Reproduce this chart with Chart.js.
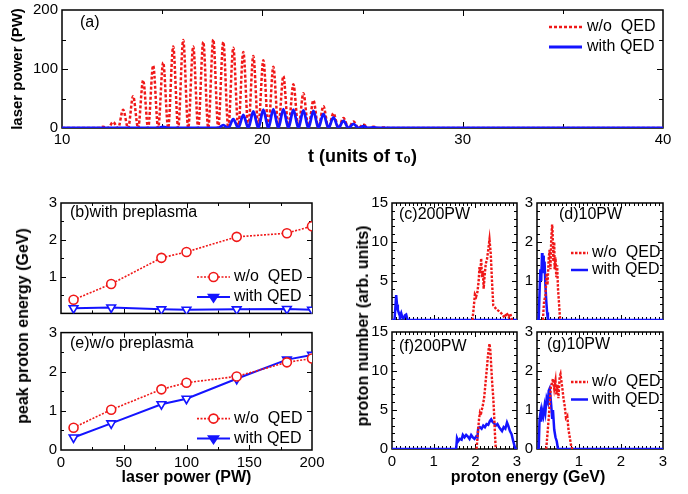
<!DOCTYPE html>
<html><head><meta charset="utf-8">
<script src="https://cdn.jsdelivr.net/npm/chart.js@4.4.1/dist/chart.umd.min.js"></script>
<style>
html,body{margin:0;padding:0;background:#fff}
body{width:688px;height:494px;position:relative;overflow:hidden;font-family:"Liberation Sans",Arial,sans-serif}
canvas{position:absolute}
.t{position:absolute;font-weight:bold;font-size:16px;white-space:nowrap;color:#000;line-height:1}
</style></head><body>
<canvas id="ca" width="688" height="172" style="left:0;top:0"></canvas>
<canvas id="cb" width="340" height="130" style="left:0;top:190px"></canvas>
<canvas id="ce" width="340" height="168" style="left:0;top:326px"></canvas>
<canvas id="cc" width="185" height="130" style="left:340px;top:190px"></canvas>
<canvas id="cd" width="168" height="130" style="left:520px;top:190px"></canvas>
<canvas id="cf" width="185" height="168" style="left:340px;top:326px"></canvas>
<canvas id="cg" width="168" height="168" style="left:520px;top:326px"></canvas>
<div class="t" style="left:23px;top:326px;transform:translate(-50%,-50%) rotate(-90deg)">peak proton energy (GeV)</div>
<div class="t" style="left:363px;top:326px;transform:translate(-50%,-50%) rotate(-90deg)">proton number (arb. units)</div>
<div class="t" style="left:528px;top:477px;transform:translate(-50%,-50%)">proton energy (GeV)</div>
<script>
// ---------- DATA ----------
// (a) laser power (PW) vs t (units of tau0): [t, P]
const aNoQED = [[10,0],[11.8,0],[12.05,2],[12.3,0],[12.55,10],[12.8,0],[13.05,31],[13.3,0],[13.55,54],[13.8,0],[14.05,81],[14.3,0],[14.55,106],[14.8,0],[15.05,111],[15.3,0],[15.55,138],[15.8,0],[16.05,149],[16.3,0],[16.55,138],[16.8,0],[17.05,146],[17.3,0],[17.55,150],[17.8,0],[18.05,146],[18.3,0],[18.55,136],[18.8,0],[19.05,129],[19.3,0],[19.55,122],[19.8,0],[20.05,115],[20.3,0],[20.55,104],[20.8,0],[21.05,88],[21.3,0],[21.55,74],[21.8,0],[22.05,59],[22.3,0],[22.55,47],[22.8,0],[23.05,37],[23.3,0],[23.55,25],[23.8,0],[24.05,17],[24.3,0],[24.55,11],[24.8,0],[25.05,6],[25.3,0],[25.55,2],[25.8,0],[26.05,1],[26.3,0],[40,0]];
const aQED = [[10,0],[14.8,0],[15.05,2],[15.3,0],[17.8,0],[18.05,5],[18.3,0],[18.55,15],[18.8,0],[19.05,22],[19.3,0],[19.55,28],[19.8,0],[20.05,31],[20.3,0],[20.55,32],[20.8,0],[21.05,32],[21.3,0],[21.55,31],[21.8,0],[22.05,30],[22.3,0],[22.55,29],[22.8,0],[23.05,24],[23.3,0],[23.55,18],[23.8,0],[24.05,12],[24.3,0],[24.55,7],[24.8,0],[25.05,3],[25.3,0],[25.55,1],[25.8,0],[40,0]];

// (b),(e) peak proton energy (GeV) vs laser power (PW)
const laserPower = [10, 40, 80, 100, 140, 180, 200];
const bNoQED = [0.37, 0.80, 1.51, 1.67, 2.08, 2.18, 2.37];
const bQED   = [0.14, 0.16, 0.11, 0.10, 0.11, 0.12, 0.10];
const eNoQED = [0.57, 1.03, 1.55, 1.72, 1.88, 2.24, 2.34];
const eQED   = [0.32, 0.68, 1.17, 1.31, 1.82, 2.31, 2.43];

// (c),(d),(f),(g) proton spectra: [E (GeV), number]
const cNoQED = [[1.93,0],[1.96,1.5],[1.99,3.3],[2.02,3.0],[2.05,3.6],[2.08,5.0],[2.10,6.8],[2.12,6.0],[2.14,7.9],[2.16,5.5],[2.18,6.3],[2.20,4.0],[2.22,5.5],[2.25,7.2],[2.28,7.8],[2.31,9.0],[2.34,10.3],[2.37,8.5],[2.40,5.0],[2.43,1.9],[2.46,1.7],[2.50,1.4],[2.55,1.2],[2.60,1.0],[2.65,0.7],[2.70,0.3],[2.75,0.9],[2.80,0.4],[2.84,0.8],[2.88,0]];
const cQED = [[0,0],[0.06,0],[0.08,1.5],[0.10,3.2],[0.12,2.0],[0.14,1.3],[0.17,0.8],[0.19,0.5],[0.22,0.9],[0.25,0.3],[0.28,0.2],[0.31,0.6],[0.34,0.7],[0.37,0.1],[0.40,0],[3,0]];
const dNoQED = [[0.14,0],[0.17,0.5],[0.20,0.6],[0.23,1.2],[0.25,0.9],[0.28,1.6],[0.30,1.8],[0.32,1.3],[0.34,2.1],[0.36,2.45],[0.37,2.3],[0.39,1.5],[0.41,2.0],[0.42,1.3],[0.44,1.6],[0.46,1.1],[0.48,1.4],[0.50,0.8],[0.52,0.5],[0.55,0]];
const dQED = [[0,0],[0.04,0],[0.06,0.7],[0.08,1.3],[0.10,1.0],[0.12,1.72],[0.13,1.4],[0.15,1.65],[0.16,1.2],[0.18,1.5],[0.20,0.9],[0.22,0.5],[0.24,0.2],[0.26,0],[3,0]];
const fNoQED = [[2.03,0],[2.06,2.0],[2.09,3.9],[2.11,4.6],[2.13,4.3],[2.15,5.0],[2.17,5.3],[2.19,5.9],[2.21,6.5],[2.23,7.6],[2.25,8.8],[2.28,10.5],[2.30,11.8],[2.32,12.8],[2.34,13.5],[2.36,12.6],[2.38,10.8],[2.40,8.8],[2.42,7.3],[2.43,6.6],[2.45,4.5],[2.47,2.0],[2.49,0]];
const fQED = [[0,0],[1.54,0],[1.56,1.4],[1.59,1.0],[1.63,1.3],[1.67,1.2],[1.70,1.8],[1.74,1.5],[1.78,1.8],[1.82,1.6],[1.86,1.3],[1.90,1.8],[1.94,1.5],[1.98,1.3],[2.02,1.6],[2.05,1.5],[2.07,2.7],[2.11,2.8],[2.15,2.6],[2.19,3.0],[2.23,2.8],[2.27,3.2],[2.31,3.1],[2.35,3.6],[2.38,3.8],[2.41,3.5],[2.45,3.3],[2.49,3.0],[2.53,3.2],[2.57,2.8],[2.61,2.5],[2.64,2.3],[2.68,2.8],[2.72,2.6],[2.76,3.4],[2.79,3.0],[2.83,2.3],[2.87,1.9],[2.91,1.0],[2.95,0.2],[2.97,0],[3,0]];
const gNoQED = [[0.22,0],[0.25,0.4],[0.28,0.8],[0.30,1.1],[0.33,1.6],[0.36,1.7],[0.38,1.8],[0.41,1.55],[0.44,1.75],[0.46,1.4],[0.49,1.65],[0.51,1.3],[0.54,1.85],[0.56,1.92],[0.58,1.75],[0.61,1.5],[0.63,1.3],[0.66,1.1],[0.69,0.8],[0.72,0.85],[0.75,0.5],[0.78,0.3],[0.81,0.1],[0.84,0]];
const gQED = [[0,0],[0.04,0],[0.06,0.75],[0.08,0.9],[0.10,0.7],[0.12,1.0],[0.15,0.85],[0.18,1.1],[0.20,0.95],[0.23,1.3],[0.26,1.2],[0.28,1.5],[0.30,1.55],[0.32,1.35],[0.34,1.1],[0.36,0.8],[0.38,1.0],[0.41,0.5],[0.44,0.3],[0.47,0.2],[0.50,0],[3,0]];

const labelNoQED = 'w/o  QED';
const labelQED = 'with QED';

// ---------- STYLE ----------
const RED = '#f01818', BLUE = '#1414ff';
const FONT = '"Liberation Sans", Arial, sans-serif';
Chart.defaults.font.family = FONT;
Chart.defaults.color = '#000';

const pts = arr => arr.map(p => ({x: p[0], y: p[1]}));
const xy = (xs, ys) => xs.map((x, i) => ({x, y: ys[i]}));

function drawMarker(ctx, ds, x, y, filled) {
  ctx.save();
  ctx.setLineDash([]);
  ctx.lineWidth = ds.pointBorderWidth || 1.5;
  ctx.strokeStyle = ds.pointBorderColor || ds.borderColor;
  ctx.fillStyle = filled ? (ds.borderColor) : (ds.pointBackgroundColor || '#fff');
  const r = ds.pointRadius;
  ctx.beginPath();
  if (ds.pointStyle === 'triangle') {
    const h = r * 1.5;
    ctx.moveTo(x - r, y - h / 3);
    ctx.lineTo(x + r, y - h / 3);
    ctx.lineTo(x, y + 2 * h / 3);
    ctx.closePath();
  } else {
    ctx.arc(x, y, r, 0, Math.PI * 2);
  }
  ctx.fill(); ctx.stroke();
  ctx.restore();
}

const frame = {
  id: 'frame',
  beforeDatasetsDraw(chart, args, o) {
    const {ctx, chartArea: a} = chart;
    const xs = chart.scales.x, ys = chart.scales.y;
    const isMul = (v, m) => Math.abs(v / m - Math.round(v / m)) < 1e-6;
    ctx.save();
    ctx.strokeStyle = '#000';
    ctx.lineWidth = 1;
    ctx.setLineDash([]);
    ctx.beginPath();
    const nx = Math.round((xs.max - xs.min) / o.xMinor);
    for (let i = 1; i < nx; i++) {
      const v = xs.min + i * o.xMinor;
      const px = Math.round(xs.getPixelForValue(v)) + 0.5;
      const L = isMul(v - xs.min, o.xMajor) ? o.majLen : o.minLen;
      ctx.moveTo(px, a.bottom); ctx.lineTo(px, a.bottom - L);
      ctx.moveTo(px, a.top); ctx.lineTo(px, a.top + L);
    }
    const ny = Math.round((ys.max - ys.min) / o.yMinor);
    for (let i = 1; i < ny; i++) {
      const v = ys.min + i * o.yMinor;
      const py = Math.round(ys.getPixelForValue(v)) + 0.5;
      const L = isMul(v - ys.min, o.yMajor) ? o.majLen : o.minLen;
      ctx.moveTo(a.left, py); ctx.lineTo(a.left + L, py);
      ctx.moveTo(a.right, py); ctx.lineTo(a.right - L, py);
    }
    ctx.stroke();
    ctx.lineWidth = 1.5;
    ctx.strokeRect(a.left, a.top, a.width, a.height);
    ctx.restore();
  },
  afterDatasetsDraw(chart, args, o) {
    const {ctx, chartArea: a} = chart;
    ctx.save();
    ctx.fillStyle = '#000';
    ctx.font = '16px ' + FONT;
    ctx.textBaseline = 'middle';
    ctx.textAlign = 'left';
    if (o.label) ctx.fillText(o.label.text, a.left + o.label.dx, a.top + o.label.dy);
    if (o.legend) {
      const L = o.legend;
      chart.data.datasets.forEach((ds, i) => {
        const y = a.top + L.dy + i * L.row;
        const x0 = a.left + L.dx;
        ctx.save();
        ctx.strokeStyle = ds.borderColor;
        ctx.lineWidth = ds.borderWidth;
        ctx.setLineDash(ds.borderDash || []);
        ctx.beginPath(); ctx.moveTo(x0, y); ctx.lineTo(x0 + L.len, y); ctx.stroke();
        ctx.restore();
        if (L.markers) drawMarker(ctx, ds, x0 + L.len / 2, y, ds.pointStyle === 'triangle');
        ctx.fillStyle = '#000';
        ctx.fillText(ds.label, x0 + L.len + L.gap, y);
      });
    }
    ctx.restore();
  }
};

function axis(c) {
  return {
    type: 'linear', min: c.min, max: c.max, display: c.show !== false,
    afterFit: s => {
      if (s.isHorizontal()) { s.height = c.size; s.paddingLeft = 0; s.paddingRight = 0; }
      else { s.width = c.size; s.paddingTop = 0; s.paddingBottom = 0; }
    },
    grid: {display: false, drawTicks: false}, border: {display: false},
    ticks: {stepSize: c.step, color: '#000', font: {size: c.font || 15}, padding: c.pad || 4,
            maxRotation: 0, autoSkip: false, includeBounds: true,
            callback: v => (c.hideZero && Math.abs(v) < 1e-9) ? '' : String(v)},
    title: c.title ? {display: true, text: c.title, color: '#000',
                      font: {size: c.tsize || 16, weight: 'bold'}, padding: c.tpad} : {display: false}
  };
}

function panel(id, datasets, pad, xc, yc, fr) {
  return new Chart(document.getElementById(id), {
    type: 'line',
    data: {datasets},
    options: {
      responsive: false, animation: false, devicePixelRatio: 1,
      layout: {padding: pad},
      plugins: {legend: {display: false}, tooltip: {enabled: false}, frame: fr},
      elements: {point: {radius: 0, hitRadius: 0}, line: {tension: 0}},
      scales: {x: axis(xc), y: axis(yc)}
    },
    plugins: [frame]
  });
}

const redDot = (data, w) => ({label: labelNoQED, data, borderColor: RED, borderWidth: w, borderDash: [2.5, 1.5], pointRadius: 0, fill: false});
const blueLine = (data, w) => ({label: labelQED, data, borderColor: BLUE, borderWidth: w, pointRadius: 0, fill: false});

// (a)
panel('ca',
  [Object.assign(redDot(pts(aNoQED), 2.5), {cubicInterpolationMode: 'monotone', order: 2, borderDash: [3, 2]}),
   Object.assign(blueLine(pts(aQED), 2.8), {cubicInterpolationMode: 'monotone', order: 1})],
  {top: 10, right: 25, left: 0, bottom: 0},
  {min: 10, max: 40, step: 10, size: 44, pad: 3, title: 't (units of τ₀)', tsize: 18, tpad: {top: 0, bottom: 4}},
  {min: 0, max: 200, step: 100, size: 62, pad: 4, title: 'laser power (PW)', tsize: 15, tpad: {top: 9, bottom: 0}},
  {xMajor: 10, xMinor: 5, yMajor: 100, yMinor: 50, majLen: 6, minLen: 4,
   label: {text: '(a)', dx: 18, dy: 13},
   legend: {dx: 487, dy: 17, row: 20, len: 33, gap: 5}});

// (b)
const markRed = {pointStyle: 'circle', pointRadius: 4.5, pointBorderWidth: 1.6, pointBackgroundColor: '#fff', pointBorderColor: RED};
const markBlue = {pointStyle: 'triangle', rotation: 180, pointRotation: 180, pointRadius: 5, pointBorderWidth: 1.6, pointBackgroundColor: '#fff', pointBorderColor: BLUE};
panel('cb',
  [Object.assign(redDot(xy(laserPower, bNoQED), 1.6), markRed, {borderDash: [2, 1.5]}),
   Object.assign(blueLine(xy(laserPower, bQED), 2), markBlue)],
  {top: 13, right: 28, left: 0, bottom: 0},
  {min: 0, max: 200, step: 50, show: false, size: 0},
  {min: 0, max: 3, step: 1, size: 61, hideZero: true},
  {xMajor: 50, xMinor: 25, yMajor: 1, yMinor: 0.5, majLen: 5, minLen: 3,
   label: {text: '(b)with preplasma', dx: 9, dy: 10},
   legend: {dx: 136, dy: 74, row: 20, len: 33, gap: 4, markers: true}});

// (e)
panel('ce',
  [Object.assign(redDot(xy(laserPower, eNoQED), 1.6), markRed, {borderDash: [2, 1.5]}),
   Object.assign(blueLine(xy(laserPower, eQED), 2), markBlue)],
  {top: 6, right: 28, left: 0, bottom: 0},
  {min: 0, max: 200, step: 50, size: 44, pad: 4, title: 'laser power (PW)', tsize: 16, tpad: {top: 0, bottom: 7}},
  {min: 0, max: 3, step: 1, size: 61},
  {xMajor: 50, xMinor: 25, yMajor: 1, yMinor: 0.5, majLen: 5, minLen: 3,
   label: {text: '(e)w/o preplasma', dx: 9, dy: 11},
   legend: {dx: 136, dy: 86, row: 20, len: 33, gap: 4, markers: true}});

// (c)
panel('cc',
  [redDot(pts(cNoQED), 2.4), blueLine(pts(cQED), 2.5)],
  {top: 13, right: 8, left: 0, bottom: 0},
  {min: 0, max: 3, step: 1, show: false, size: 0},
  {min: 0, max: 15, step: 5, size: 52, hideZero: true},
  {xMajor: 1, xMinor: 0.1, yMajor: 5, yMinor: 1, majLen: 5, minLen: 3,
   label: {text: '(c)200PW', dx: 7, dy: 12}});

// (d)
panel('cd',
  [redDot(pts(dNoQED), 2.4), blueLine(pts(dQED), 2.5)],
  {top: 13, right: 25, left: 0, bottom: 0},
  {min: 0, max: 3, step: 1, show: false, size: 0},
  {min: 0, max: 3, step: 1, size: 17, hideZero: true},
  {xMajor: 1, xMinor: 0.1, yMajor: 1, yMinor: 0.2, majLen: 5, minLen: 3,
   label: {text: '(d)10PW', dx: 22, dy: 12},
   legend: {dx: 34, dy: 50, row: 17, len: 17, gap: 4}});

// (f)
panel('cf',
  [redDot(pts(fNoQED), 2.4), blueLine(pts(fQED), 2.5)],
  {top: 6, right: 8, left: 0, bottom: 0},
  {min: 0, max: 3, step: 1, size: 45, pad: 4},
  {min: 0, max: 15, step: 5, size: 52},
  {xMajor: 1, xMinor: 0.1, yMajor: 5, yMinor: 1, majLen: 5, minLen: 3,
   label: {text: '(f)200PW', dx: 7, dy: 15}});

// (g)
panel('cg',
  [redDot(pts(gNoQED), 2.4), blueLine(pts(gQED), 2.5)],
  {top: 6, right: 25, left: 0, bottom: 0},
  {min: 0, max: 3, step: 1, size: 45, pad: 4, hideZero: true},
  {min: 0, max: 3, step: 1, size: 17},
  {xMajor: 1, xMinor: 0.1, yMajor: 1, yMinor: 0.2, majLen: 5, minLen: 3,
   label: {text: '(g)10PW', dx: 10, dy: 13},
   legend: {dx: 34, dy: 50, row: 17.5, len: 17, gap: 4}});
</script>
</body></html>
